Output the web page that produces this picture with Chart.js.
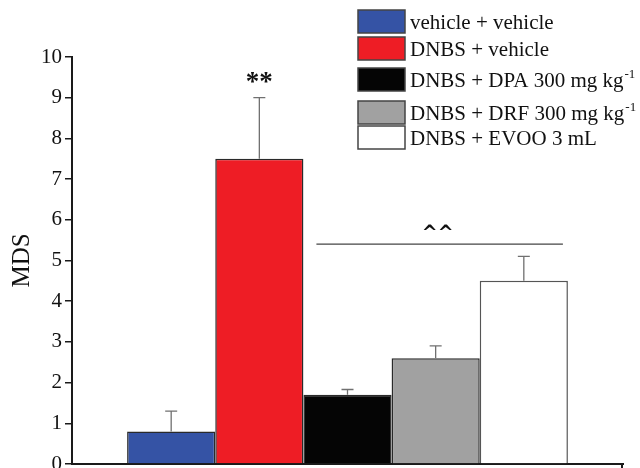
<!DOCTYPE html>
<html>
<head>
<meta charset="utf-8">
<script src="https://cdn.jsdelivr.net/npm/chart.js@4.4.1/dist/chart.umd.min.js"></script>
<style>
  html, body { margin: 0; padding: 0; background: #fff; }
  #wrap { width: 640px; height: 468px; position: relative; }
</style>
</head>
<body>
<div id="wrap"><canvas id="c" width="640" height="468"></canvas></div>
<script>
// Treatment groups (a trailing "^-1" is drawn as a superscript in the legend)
const groups = [
  'vehicle + vehicle',
  'DNBS + vehicle',
  'DNBS + DPA 300 mg kg^-1',
  'DNBS + DRF 300 mg kg^-1',
  'DNBS + EVOO 3 mL'
];
// Mean MDS per group and upper error (SEM)
const means = [0.8, 7.5, 1.7, 2.6, 4.5];
const errors = [0.5, 1.5, 0.13, 0.3, 0.6];
const fills = ['#3553a5', '#ee1d25', '#050505', '#a1a1a1', '#ffffff'];
const yTicks = [0, 1, 2, 3, 4, 5, 6, 7, 8, 9, 10];
// Significance marks: '**' over group 1; '^^' over groups 2–4
const starMark = { text: '**', group: 1, value: 9.5 };
const caretMark = { text: '^^', from: 2, to: 4, lineValue: 5.4, textValue: 5.8 };

const SERIF = '"Liberation Serif", "Times New Roman", serif';

const datasets = groups.map((g, i) => ({
  label: g,
  data: [means[i]],
  backgroundColor: fills[i],
  borderColor: i === 4 ? '#555' : '#2a2a2a',
  borderWidth: 1.5,
  borderSkipped: 'bottom',
  categoryPercentage: 0.8,
  barPercentage: 1.0,
  errorPlus: errors[i]
}));

// Upper error bars with caps
const errorBars = {
  id: 'errorBars',
  afterDatasetsDraw(chart) {
    const ctx = chart.ctx;
    const y = chart.scales.y;
    ctx.save();
    ctx.strokeStyle = '#707070';
    ctx.lineWidth = 1.3;
    chart.data.datasets.forEach((ds, i) => {
      const bar = chart.getDatasetMeta(i).data[0];
      const x = bar.x;
      const top = y.getPixelForValue(ds.data[0]);
      const end = y.getPixelForValue(ds.data[0] + ds.errorPlus);
      ctx.beginPath();
      ctx.moveTo(x, top);
      ctx.lineTo(x, end);
      ctx.moveTo(x - 6, end);
      ctx.lineTo(x + 6, end);
      ctx.stroke();
    });
    ctx.restore();
  }
};

// Significance annotations and the small end tick of the x axis
const marks = {
  id: 'marks',
  afterDatasetsDraw(chart) {
    const ctx = chart.ctx;
    const y = chart.scales.y;
    const area = chart.chartArea;
    const barAt = i => chart.getDatasetMeta(i).data[0];
    ctx.save();
    ctx.fillStyle = '#111';
    ctx.textAlign = 'center';
    ctx.textBaseline = 'middle';
    ctx.font = 'bold 27px ' + SERIF;
    ctx.fillText(starMark.text, barAt(starMark.group).x, y.getPixelForValue(starMark.value) + 6);

    const a = barAt(caretMark.from), b = barAt(caretMark.to);
    const x0 = a.x - a.width / 2 + 13, x1 = b.x + b.width / 2 - 5;
    const ly = y.getPixelForValue(caretMark.lineValue);
    ctx.strokeStyle = '#444';
    ctx.lineWidth = 1.3;
    ctx.beginPath();
    ctx.moveTo(x0, ly);
    ctx.lineTo(x1, ly);
    ctx.stroke();
    ctx.font = 'bold 19px "DejaVu Sans", sans-serif';
    ctx.fillText(caretMark.text, (x0 + x1) / 2 - 2, y.getPixelForValue(caretMark.textValue) + 6);

    ctx.strokeStyle = '#1a1a1a';
    ctx.lineWidth = 2;
    ctx.beginPath();
    ctx.moveTo(area.right - 1, area.bottom);
    ctx.lineTo(area.right - 1, area.bottom + 6);
    ctx.stroke();
    ctx.restore();
  }
};

// Vertical legend at the top right
const boxLegend = {
  id: 'boxLegend',
  afterDraw(chart) {
    const ctx = chart.ctx;
    const rows = [10, 37, 68, 101, 126];
    const bx = 358, bw = 47, bh = 23, tx = 410;
    ctx.save();
    chart.data.datasets.forEach((ds, i) => {
      const ry = rows[i];
      ctx.fillStyle = ds.backgroundColor;
      ctx.fillRect(bx, ry, bw, bh);
      ctx.strokeStyle = '#444';
      ctx.lineWidth = 1.5;
      ctx.strokeRect(bx, ry, bw, bh);
      const parts = ds.label.split('^');
      ctx.fillStyle = '#111';
      ctx.textBaseline = 'alphabetic';
      ctx.textAlign = 'left';
      ctx.font = '21px ' + SERIF;
      const base = ry + bh / 2 + 7;
      ctx.fillText(parts[0], tx, base);
      if (parts[1]) {
        const w = ctx.measureText(parts[0]).width;
        ctx.font = '13px ' + SERIF;
        ctx.fillText(parts[1], tx + w + 1, base - 9);
      }
    });
    ctx.restore();
  }
};

new Chart(document.getElementById('c'), {
  type: 'bar',
  data: { labels: [''], datasets },
  options: {
    responsive: false,
    animation: false,
    events: [],
    layout: { padding: { top: 57, right: 17, left: 0, bottom: 0 } },
    plugins: { legend: { display: false }, tooltip: { enabled: false } },
    scales: {
      x: {
        ticks: { display: false },
        grid: { display: false, drawTicks: false },
        border: { display: true, color: '#1a1a1a', width: 2 },
        afterFit(s) { s.height = 4; s.paddingLeft = 0; s.paddingRight = 0; }
      },
      y: {
        min: 0,
        max: 10,
        afterBuildTicks(s) { s.ticks = yTicks.map(v => ({ value: v })); },
        ticks: {
          color: '#111',
          font: { family: SERIF, size: 21 },
          padding: 3
        },
        grid: { drawOnChartArea: false, drawTicks: true, tickLength: 7, color: '#1a1a1a', lineWidth: 1.5 },
        border: { display: true, color: '#1a1a1a', width: 2 },
        title: {
          display: true,
          text: 'MDS',
          color: '#111',
          font: { family: SERIF, size: 25 },
          padding: { top: 7, bottom: 0 }
        },
        afterFit(s) { s.width = 72; s.paddingTop = 0; s.paddingBottom = 0; }
      }
    }
  },
  plugins: [errorBars, marks, boxLegend]
});
</script>
</body>
</html>
